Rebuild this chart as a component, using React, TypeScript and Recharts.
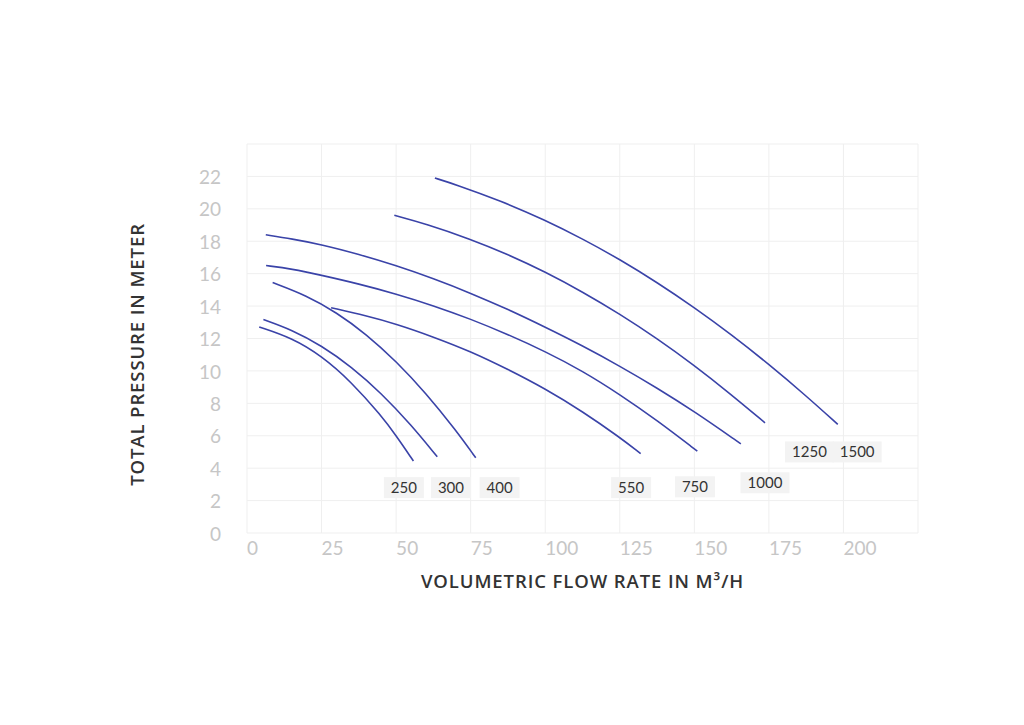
import {
  LineChart,
  Line,
  XAxis,
  YAxis,
  CartesianGrid,
  ReferenceDot,
  Label,
} from "recharts";

const FONT = "Lato, 'Open Sans', sans-serif";
const TITLE_FONT = "'Open Sans', Lato, sans-serif";
const CURVE_COLOR = "#3a43a8";

// flow (m3/h) and head (m)
const FLOW_250 = [4.1, 15, 25, 35, 45, 50, 55.8];
const HEAD_250 = [12.71, 12.04, 10.93, 9.32, 7.24, 6.01, 4.44];
const FLOW_300 = [5.5, 15, 25, 35, 45, 55, 63.8];
const HEAD_300 = [13.17, 12.54, 11.56, 10.26, 8.63, 6.68, 4.7];
const FLOW_400 = [8.6, 20, 30, 40, 50, 60, 70, 76.7];
const HEAD_400 = [15.45, 14.65, 13.61, 12.27, 10.6, 8.63, 6.35, 4.64];
const FLOW_550 = [28.2, 40, 50, 62.5, 75, 87.5, 100, 112.5, 125, 132];
const HEAD_550 = [13.9, 13.4, 12.9, 12.1, 11.2, 10.1, 8.9, 7.5, 5.9, 4.9];
const FLOW_750 = [6.4, 15, 25, 37.5, 50, 62.5, 75, 87.5, 100, 112.5, 125, 137.5, 151];
const HEAD_750 = [16.5, 16.3, 15.9, 15.37, 14.75, 14.03, 13.2, 12.25, 11.2, 10.0, 8.55, 6.95, 5.05];
const FLOW_1000 = [6.3, 15, 25, 37.5, 50, 62.5, 75, 87.5, 100, 112.5, 125, 137.5, 150, 165.6];
const HEAD_1000 = [18.4, 18.15, 17.8, 17.2, 16.5, 15.7, 14.8, 13.8, 12.7, 11.55, 10.3, 8.95, 7.5, 5.5];
const FLOW_1250 = [49.4, 60, 75, 87.5, 100, 112.5, 125, 137.5, 150, 162, 173.7];
const HEAD_1250 = [19.6, 19.07, 18.13, 17.19, 16.11, 14.88, 13.51, 12.0, 10.34, 8.6, 6.8];
const FLOW_1500 = [63, 70, 85, 100, 112.5, 125, 137.5, 150, 162.5, 175, 187, 198.1];
const HEAD_1500 = [21.9, 21.5, 20.5, 19.3, 18.15, 16.88, 15.46, 13.91, 12.23, 10.41, 8.54, 6.7];

const MODELS = ["250", "300", "400", "550", "750", "1000", "1250", "1500"];
const FLOWS = [FLOW_250, FLOW_300, FLOW_400, FLOW_550, FLOW_750, FLOW_1000, FLOW_1250, FLOW_1500];
const HEADS = [HEAD_250, HEAD_300, HEAD_400, HEAD_550, HEAD_750, HEAD_1000, HEAD_1250, HEAD_1500];

// where each model tag sits, in chart units
const TAG_FLOW = [52.6, 68.4, 84.7, 128.8, 150.2, 173.7, 188.6, 204.6];
const TAG_HEAD = [2.8, 2.8, 2.8, 2.8, 2.85, 3.1, 5.0, 5.0];

const X_TICKS = [0, 25, 50, 75, 100, 125, 150, 175, 200, 225];
const Y_TICKS = [0, 2, 4, 6, 8, 10, 12, 14, 16, 18, 20, 22, 24];

const series = MODELS.map((name, i) => ({
  name,
  data: FLOWS[i].map((q, j) => ({ q, h: HEADS[i][j] })),
}));

function FlowTick({ x, y, payload }: any) {
  if (payload.value === 225) return <g />;
  return (
    <text x={x} y={y} dy="0.71em" textAnchor="start" fill="#c6c6c6" fontSize={19} fontFamily={FONT}>
      {payload.value}
    </text>
  );
}

function HeadTick({ x, y, payload }: any) {
  if (payload.value === 24) return <g />;
  return (
    <text x={x} y={y} dy="0.4em" textAnchor="end" fill="#c6c6c6" fontSize={19} fontFamily={FONT}>
      {payload.value}
    </text>
  );
}

function Tag({ cx, cy, text }: any) {
  const w = text.length * 9 + 13;
  return (
    <g>
      <rect x={cx - w / 2} y={cy - 10.5} width={w} height={21} fill="#f3f3f3" />
      <text
        x={cx}
        y={cy}
        dy="0.36em"
        textAnchor="middle"
        fill="#333"
        fontSize={15}
        fontFamily={FONT}
      >
        {text}
      </text>
    </g>
  );
}

export default function App() {
  return (
    <div style={{ width: 1000, height: 700 }}>
      <LineChart
        width={1000}
        height={700}
        margin={{ top: 136, right: 90, bottom: 145, left: 179 }}
      >
        <CartesianGrid stroke="#efefef" />
        <XAxis
          type="number"
          dataKey="q"
          domain={[0, 225]}
          ticks={X_TICKS}
          axisLine={false}
          tickLine={false}
          tickSize={0}
          tickMargin={9}
          height={30}
          tick={FlowTick}
          allowDuplicatedCategory={false}
        >
          <Label
            content={({ viewBox }: any) => (
              <text
                x={viewBox.x + viewBox.width / 2}
                y={viewBox.y + 55}
                textAnchor="middle"
                fill="#333"
                fontSize={18.5}
                fontWeight={600}
                letterSpacing={0.9}
                fontFamily={TITLE_FONT}
              >
                VOLUMETRIC FLOW RATE IN M³/H
              </text>
            )}
          />
        </XAxis>
        <YAxis
          type="number"
          domain={[0, 24]}
          ticks={Y_TICKS}
          axisLine={false}
          tickLine={false}
          tickSize={0}
          tickMargin={26}
          width={60}
          tick={HeadTick}
        >
          <Label
            content={({ viewBox }: any) => {
              const cx = viewBox.x - 51;
              const cy = viewBox.y + viewBox.height / 2 + 16;
              return (
                <text
                  x={cx}
                  y={cy}
                  transform={`rotate(-90 ${cx} ${cy})`}
                  textAnchor="middle"
                  dominantBaseline="central"
                  fill="#333"
                  fontSize={18.5}
                  fontWeight={600}
                  letterSpacing={0.9}
                  fontFamily={TITLE_FONT}
                >
                  TOTAL PRESSURE IN METER
                </text>
              );
            }}
          />
        </YAxis>
        {series.map((s) => (
          <Line
            key={s.name}
            data={s.data}
            dataKey="h"
            type="basis"
            stroke={CURVE_COLOR}
            strokeWidth={1.6}
            dot={false}
            activeDot={false}
            isAnimationActive={false}
          />
        ))}
        {MODELS.map((name, i) => (
          <ReferenceDot
            key={"tag" + name}
            x={TAG_FLOW[i]}
            y={TAG_HEAD[i]}
            r={1}
            shape={(p: any) => <Tag cx={p.cx} cy={p.cy} text={name} />}
          />
        ))}
      </LineChart>
    </div>
  );
}
